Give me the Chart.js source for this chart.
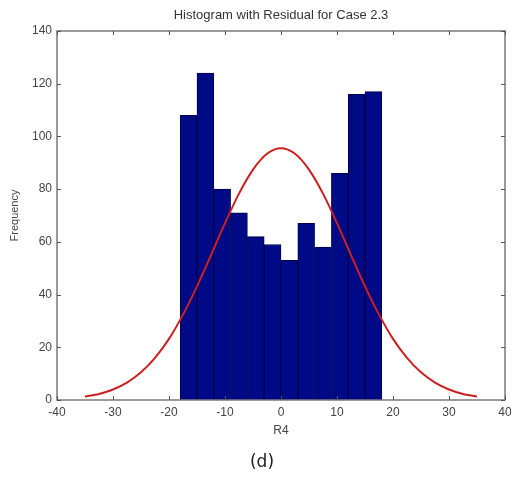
<!DOCTYPE html>
<html>
<head>
<meta charset="utf-8">
<script src="https://cdn.jsdelivr.net/npm/chart.js@4"></script>
<style>
  html, body { margin: 0; padding: 0; background: #fff; }
  #wrap { width: 511px; height: 479px; position: relative; }
</style>
</head>
<body>
<div id="wrap"><canvas id="hist"></canvas></div>
<script>
// histogram bins (centres, width 3) and counts
const binCenters = [-16.5, -13.5, -10.5, -7.5, -4.5, -1.5, 1.5, 4.5, 7.5, 10.5, 13.5, 16.5];
const binCounts = [108, 124, 80, 71, 62, 59, 53, 67, 58, 86, 116, 117];

// red normal curve
const curveX = [-35, -32.5, -30, -27.5, -25, -22.5, -20, -17.5, -15, -12.5, -10, -7.5, -5, -2.5, 0,
                2.5, 5, 7.5, 10, 12.5, 15, 17.5, 20, 22.5, 25, 27.5, 30, 32.5, 35];
const curveY = [1.3, 2.3, 4, 6.6, 10.5, 16, 23.2, 32.4, 43.1, 55, 67.1, 78.3, 87.4, 93.4, 95.5,
                93.4, 87.4, 78.3, 67.1, 55, 43.1, 32.4, 23.2, 16, 10.5, 6.6, 4, 2.3, 1.3];

const xTicks = [-40, -30, -20, -10, 0, 10, 20, 30, 40];
const yTicks = [0, 20, 40, 60, 80, 100, 120, 140];

const titleText = 'Histogram with Residual for Case 2.3';
const captionText = '(d)';

const axisFont = { family: 'Liberation Sans, Arial, sans-serif', size: 12 };

// box round the axes, inward tick marks, title and caption
const framePlugin = {
    id: 'frame',
    afterDraw(chart) {
        const { ctx, chartArea: a, scales } = chart;
        ctx.save();
        ctx.strokeStyle = '#7a7a7a';
        ctx.lineWidth = 1.5;
        ctx.strokeRect(a.left, a.top, a.right - a.left, a.bottom - a.top);

        ctx.lineWidth = 1;
        ctx.strokeStyle = '#555';
        const len = 4;
        xTicks.forEach(v => {
            const px = Math.round(scales.x.getPixelForValue(v)) + 0.5;
            ctx.beginPath();
            ctx.moveTo(px, a.bottom); ctx.lineTo(px, a.bottom - len);
            ctx.moveTo(px, a.top); ctx.lineTo(px, a.top + len);
            ctx.stroke();
        });
        yTicks.forEach(v => {
            const py = Math.round(scales.y.getPixelForValue(v)) + 0.5;
            ctx.beginPath();
            ctx.moveTo(a.left, py); ctx.lineTo(a.left + len, py);
            ctx.moveTo(a.right, py); ctx.lineTo(a.right - len, py);
            ctx.stroke();
        });

        ctx.fillStyle = '#333';
        ctx.textAlign = 'center';
        ctx.textBaseline = 'middle';
        ctx.font = '13px Liberation Sans, Arial, sans-serif';
        ctx.fillText(titleText, (a.left + a.right) / 2, 15);

        ctx.fillStyle = '#222';
        ctx.font = '17px "DejaVu Sans", sans-serif';
        ctx.fillText(captionText, 262, 463);
        ctx.restore();
    }
};

new Chart(document.getElementById('hist'), {
    data: {
        datasets: [
            {
                type: 'line',
                data: curveX.map((x, i) => ({ x: x, y: curveY[i] })),
                borderColor: '#cc2020',
                borderWidth: 2,
                pointRadius: 0,
                tension: 0.3,
                fill: false,
                order: 0
            },
            {
                type: 'bar',
                data: binCenters.map((x, i) => ({ x: x, y: binCounts[i] })),
                backgroundColor: '#000a87',
                borderColor: '#000045',
                borderWidth: 1,
                barPercentage: 1,
                categoryPercentage: 1,
                order: 1
            }
        ]
    },
    options: {
        responsive: true,
        maintainAspectRatio: false,
        animation: false,
        layout: { padding: { top: 31, right: 0, left: 0, bottom: 0 } },
        plugins: {
            legend: { display: false },
            tooltip: { enabled: false }
        },
        scales: {
            x: {
                type: 'linear',
                min: -40,
                max: 40,
                offset: false,
                grid: { display: false, drawTicks: false, offset: false },
                border: { display: false },
                afterBuildTicks: s => { s.ticks = xTicks.map(v => ({ value: v })); },
                ticks: { color: '#444', font: axisFont, padding: 5, maxRotation: 0 },
                title: { display: true, text: 'R4', color: '#444', font: axisFont,
                         padding: { top: 0, bottom: 41 } },
                afterFit: s => { s.height = 79; s.paddingLeft = 0; s.paddingRight = 6; }
            },
            y: {
                min: 0,
                max: 140,
                grid: { display: false, drawTicks: false },
                border: { display: false },
                afterBuildTicks: s => { s.ticks = yTicks.map(v => ({ value: v })); },
                ticks: { color: '#444', font: axisFont, padding: 5 },
                title: { display: true, text: 'Frequency', color: '#444',
                         font: { family: axisFont.family, size: 11 },
                         padding: { top: 8, bottom: 0 } },
                afterFit: s => { s.width = 57; }
            }
        }
    },
    plugins: [framePlugin]
});
</script>
</body>
</html>
